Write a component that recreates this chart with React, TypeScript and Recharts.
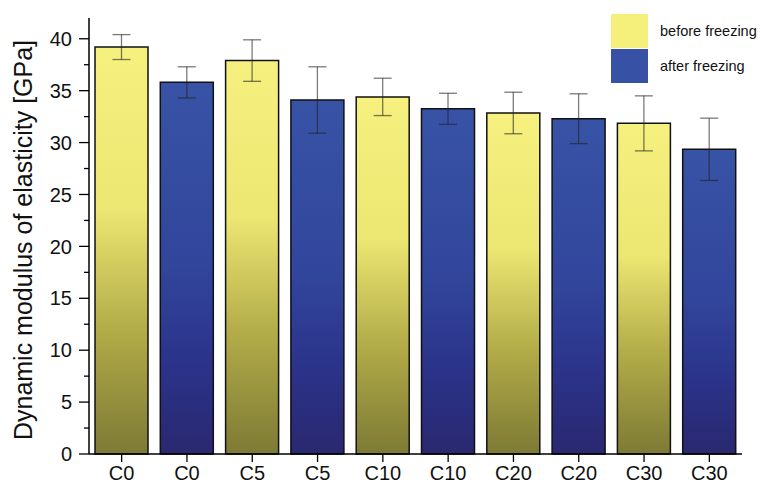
import React from 'react';
import { BarChart, Bar, XAxis, YAxis, ErrorBar, Cell } from 'recharts';

// Specimen groups (each tested before and after freezing)
const categories = ['C0', 'C0', 'C5', 'C5', 'C10', 'C10', 'C20', 'C20', 'C30', 'C30'];
const conditions = ['before', 'after', 'before', 'after', 'before', 'after', 'before', 'after', 'before', 'after'];
// Dynamic modulus of elasticity [GPa] and its standard deviation
const modulus = [39.2, 35.8, 37.9, 34.1, 34.4, 33.25, 32.85, 32.3, 31.85, 29.35];
const deviation = [1.2, 1.5, 2.0, 3.2, 1.8, 1.5, 2.0, 2.4, 2.65, 3.0];
const yTicks = [0, 2.5, 5, 7.5, 10, 12.5, 15, 17.5, 20, 22.5, 25, 27.5, 30, 32.5, 35, 37.5, 40];
const legendItems = [
  { key: 'before', label: 'before freezing', color: '#f5ef7c' },
  { key: 'after', label: 'after freezing', color: '#3751a5' },
];

const data = categories.map((name, i) => ({
  id: i,
  name,
  condition: conditions[i],
  value: modulus[i],
  err: deviation[i],
}));

const FONT = '"Liberation Sans", Arial, sans-serif';

const YTick = (props: any) => {
  const { x, y, payload } = props;
  const major = payload.value % 5 === 0;
  return (
    <g>
      <line x1={x - (major ? 10 : 5)} x2={x} y1={y} y2={y} stroke="#000" strokeWidth={1.3} />
      {major && (
        <text x={x - 17} y={y} dy="0.36em" textAnchor="end" fontSize={20} fill="#111" fontFamily={FONT}>
          {payload.value}
        </text>
      )}
    </g>
  );
};

const XTick = (props: any) => {
  const { x, y, payload } = props;
  return (
    <text x={x} y={y} dy="0.8em" textAnchor="middle" fontSize={20} fill="#111" fontFamily={FONT}>
      {categories[payload.value]}
    </text>
  );
};

export default function App() {
  return (
    <div style={{ position: 'absolute', left: 0, top: 0, width: 760, height: 486, background: '#fff' }}>
      <BarChart
        width={760}
        height={486}
        data={data}
        margin={{ top: 18, right: 18, bottom: 0, left: 0 }}
        barCategoryGap={6}
      >
        <defs>
          <linearGradient id="gradBefore" x1="0" y1="0" x2="0" y2="1">
            <stop offset="0%" stopColor="#f6f07f" />
            <stop offset="40%" stopColor="#ece672" />
            <stop offset="70%" stopColor="#b1ab48" />
            <stop offset="100%" stopColor="#7d7a35" />
          </linearGradient>
          <linearGradient id="gradAfter" x1="0" y1="0" x2="0" y2="1">
            <stop offset="0%" stopColor="#3853a6" />
            <stop offset="50%" stopColor="#31459b" />
            <stop offset="75%" stopColor="#2b338a" />
            <stop offset="100%" stopColor="#2a2870" />
          </linearGradient>
        </defs>
        <XAxis
          dataKey="id"
          type="category"
          height={32}
          axisLine={{ stroke: '#000', strokeWidth: 1.5 }}
          tickLine={{ stroke: '#000', strokeWidth: 1.3 }}
          tickSize={8}
          tick={<XTick />}
          interval={0}
        />
        <YAxis
          domain={[0, 42]}
          ticks={yTicks}
          width={89}
          tickSize={0}
          tickMargin={0}
          tickLine={false}
          axisLine={{ stroke: '#000', strokeWidth: 1.5 }}
          tick={<YTick />}
          interval={0}
          allowDecimals
        />
        <Bar dataKey="value" stroke="#111" strokeWidth={1.5} isAnimationActive={false}>
          {data.map((d) => (
            <Cell key={d.id} fill={d.condition === 'before' ? 'url(#gradBefore)' : 'url(#gradAfter)'} />
          ))}
          <ErrorBar dataKey="err" width={9} stroke="#222" strokeOpacity={0.6} strokeWidth={1.3} direction="y" />
        </Bar>
        <text
          x={0}
          y={0}
          transform="translate(31.5 240) rotate(-90)"
          textAnchor="middle"
          fontSize={25}
          fill="#111"
          fontFamily={FONT}
        >
          Dynamic modulus of elasticity [GPa]
        </text>
      </BarChart>
      <div style={{ position: 'absolute', left: 611, top: 14, fontFamily: FONT }}>
        {legendItems.map((it) => (
          <div key={it.key} style={{ display: 'flex', alignItems: 'center', height: 34, marginBottom: 1 }}>
            <div style={{ width: 37, height: 34, background: it.color }} />
            <span style={{ marginLeft: 12, fontSize: 14.5, color: '#111', whiteSpace: 'nowrap' }}>{it.label}</span>
          </div>
        ))}
      </div>
    </div>
  );
}
